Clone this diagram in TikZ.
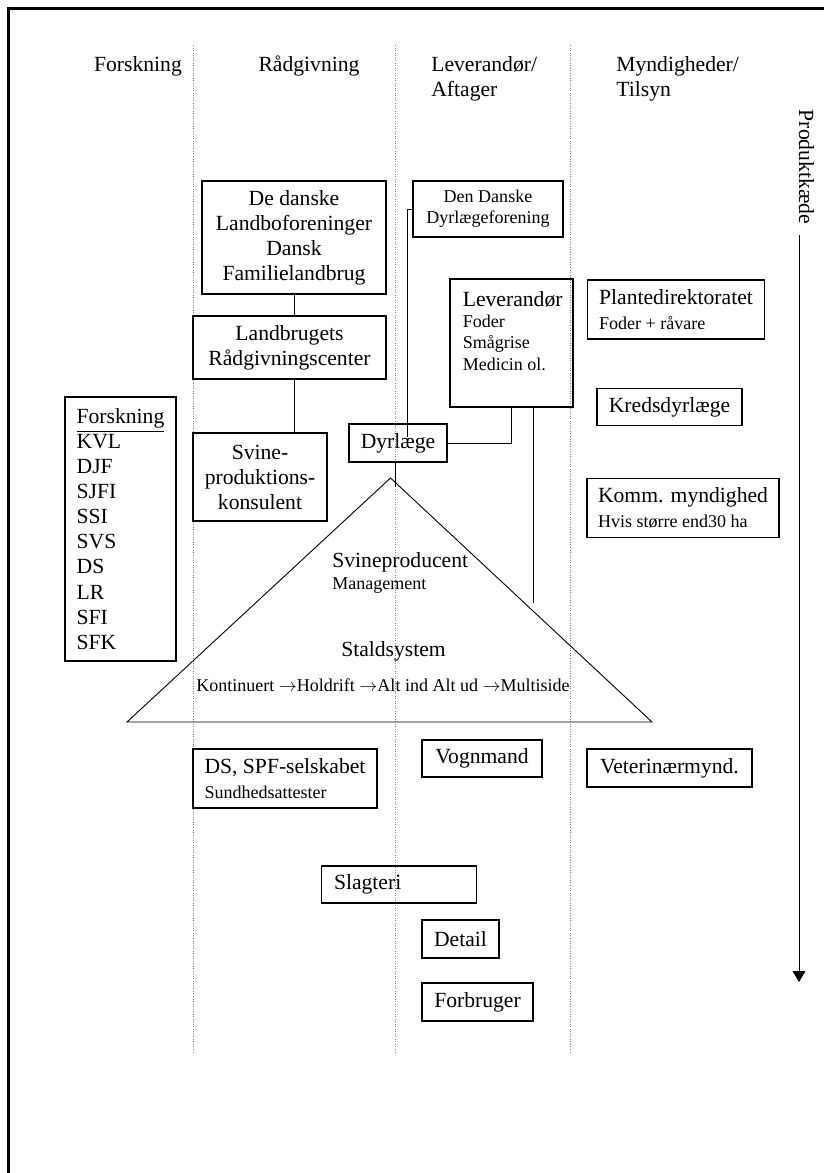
\documentclass[tikz,border=0pt]{standalone}
\usepackage{fontspec}
\setmainfont{Liberation Serif}
\usetikzlibrary{arrows.meta}

\newcommand{\mainsize}{\fontsize{12}{13.9}\selectfont}
\newcommand{\smallsize}{\fontsize{10}{11.8}\selectfont}
\newcommand{\stepto}{$\rightarrow$}

\tikzset{
	box/.style={draw, line width=0.6pt, align=center},
	divider/.style={densely dotted, gray, line width=0.4pt},
	link/.style={line width=0.5pt},
}

\begin{document}
\begin{tikzpicture}[x=0.555pt, y=-0.555pt, inner sep=0pt, font=\mainsize]
		\def\pix{0.555pt} % one pixel of the scan
		\useasboundingbox (0,0) rectangle (824,1173);
		
		% Frame, only its top and left edge are on the page
		\draw[line width=1.5pt] (8.5,1173) -- (8.5,8.5) -- (824,8.5);
		
		% Dotted column dividers
		\foreach \x in {193, 395, 570} {
			\draw[divider] (\x,45) -- (\x,1053);
		}
		
		% Column headings
		\node (hforsk) at (138,66) {Forskning};
		\node (hraad) at (309,66) {Rådgivning};
		\node[anchor=west, align=left] (hlev) at (431,78.5) {Leverandør/\\Aftager};
		\node[anchor=west, align=left] (hmynd) at (616,78.5) {Myndigheder/\\Tilsyn};
		
		% Product chain arrow on the right
		\node[rotate=-90] (prod) at (806.5,167) {Produktkæde};
		\coordinate (chaintop) at (799,235);
		\coordinate (chainend) at (799,982);
		\draw[link, -{Triangle[width=7pt,length=6pt]}] (chaintop) -- (chainend);
		
		% Research
		\node[box, align=left, minimum width=111*\pix, minimum height=264*\pix] (forsk) at (120.5,529) {\underline{Forskning}\\KVL\\DJF\\SJFI\\SSI\\SVS\\DS\\LR\\SFI\\SFK};
		
		% Advisory
		\node[box, minimum width=184*\pix, minimum height=113*\pix] (landbo) at (294,237.5) {De danske\\Landboforeninger\\Dansk\\Familielandbrug};
		\node[box, minimum width=193*\pix, minimum height=63*\pix] (raad) at (289.5,347.5) {Landbrugets\\Rådgivningscenter};
		\node[box, minimum width=134*\pix, minimum height=88*\pix] (konsulent) at (260,477) {Svine-\\produktions-\\konsulent};
		\node[box, align=left, minimum width=184*\pix, minimum height=59*\pix] (spf) at (285,778.5) {DS, SPF-selskabet\\{\smallsize Sundhedsattester}};
		
		% Suppliers and buyers
		\node[box, font=\smallsize, minimum width=150*\pix, minimum height=56*\pix] (dlf) at (488,209) {Den Danske\\Dyrlægeforening};
		\node[box, minimum width=98*\pix, minimum height=38*\pix] (dyr) at (398,443) {Dyrlæge};
		\node[box, minimum width=123*\pix, minimum height=128*\pix] (lev) at (511.5,343) {};
		\node[anchor=north west, align=left, font=\smallsize] (levtxt) at (462.5,291) {{\mainsize Leverandør}\\Foder\\Smågrise\\Medicin ol.};
		\node[box, minimum width=120*\pix, minimum height=37*\pix] (vogn) at (482,758.5) {Vognmand};
		\node[box, align=flush left, text width=130*\pix, inner xsep=12.5*\pix, minimum height=37*\pix] (slagteri) at (399,884.5) {Slagteri};
		\node[box, minimum width=77*\pix, minimum height=38*\pix] (detail) at (460.5,939) {Detail};
		\node[box, minimum width=111*\pix, minimum height=38*\pix] (forbruger) at (477.5,1002) {Forbruger};
		
		% Authorities
		\node[box, align=left, minimum width=177*\pix, minimum height=59*\pix] (plante) at (676,309.5) {Plantedirektoratet\\{\smallsize Foder + råvare}};
		\node[box, minimum width=145*\pix, minimum height=37*\pix] (kreds) at (669.5,407) {Kredsdyrlæge};
		\node[box, align=left, minimum width=192*\pix, minimum height=59*\pix] (komm) at (683,508) {Komm. myndighed\\{\smallsize Hvis større end30 ha}};
		\node[box, minimum width=165*\pix, minimum height=38*\pix] (veterinaer) at (669.5,768) {Veterinærmynd.};
		
		% The pig producer triangle
		\coordinate (apex) at (390.5,478);
		\coordinate (baseleft) at (127,722);
		\coordinate (baseright) at (652,722);
		\draw[link] (apex) -- (baseleft) -- (baseright) -- cycle;
		\node[anchor=west, align=left, font=\smallsize] (producent) at (332,573) {{\mainsize Svineproducent}\\Management};
		\node (stald) at (393.5,651) {Staldsystem};
		\node[font=\smallsize] (drift) at (383,685) {Kontinuert \stepto Holdrift \stepto Alt ind Alt ud \stepto Multiside};
		
		% Connections
		\draw[link] (landbo.south) -- (landbo.south |- raad.north);
		\draw[link] (landbo.south |- raad.south) -- (landbo.south |- konsulent.north);
		\coordinate (dyrin) at (407,437);
		\draw[link] (dlf.west) -| (dyrin);
		\draw[link] (lev.south) |- (dyr.east);
		\coordinate (levend) at (533,603);
		\draw[link] (levend |- lev.south) -- (levend);
		\coordinate (dyrend) at (395,487);
		\draw[link] (dyrend |- dyr.south) -- (dyrend);
\end{tikzpicture}
\end{document}
